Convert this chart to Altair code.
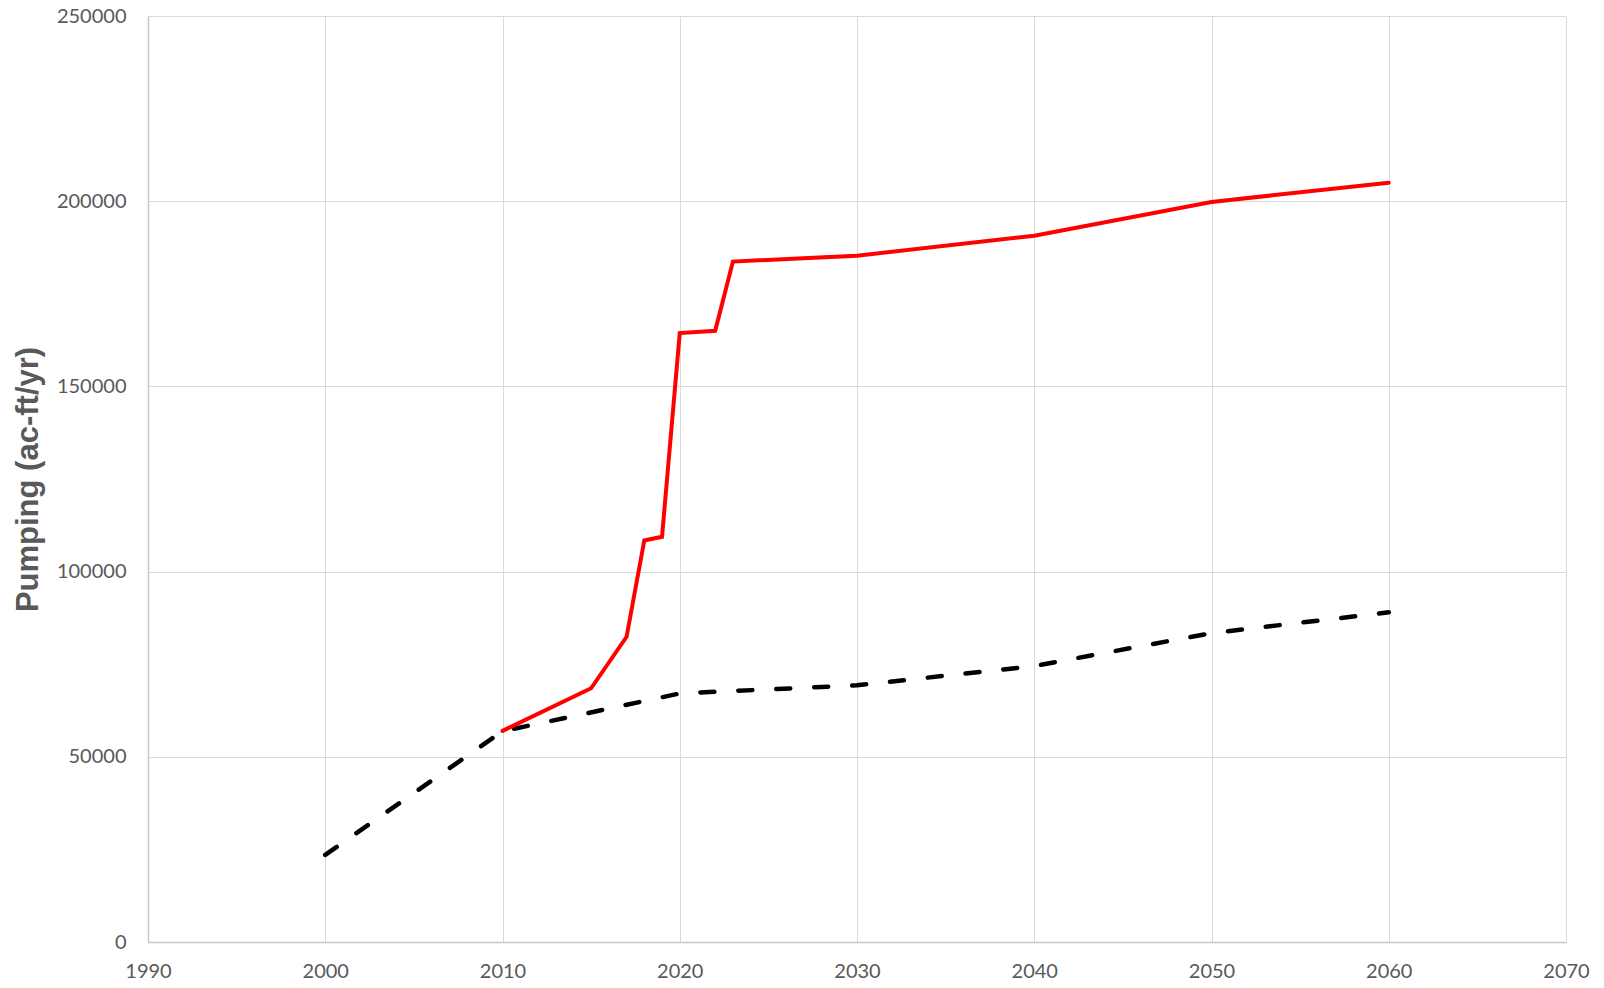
import altair as alt
import pandas as pd

# Baseline (black dashed) series
base_years = [2000, 2010, 2020, 2030, 2040, 2050, 2060]
base_vals = [23500, 56900, 67100, 69300, 74500, 83400, 89000]

# Projected (red) series
proj_years = [2010, 2015, 2017, 2018, 2019, 2020, 2022, 2023, 2030, 2040, 2050, 2060]
proj_vals = [57000, 68500, 82400, 108400, 109400, 164400, 165000, 183700, 185300, 190700, 199800, 205000]

x_ticks = [1990, 2000, 2010, 2020, 2030, 2040, 2050, 2060, 2070]
y_ticks = [0, 50000, 100000, 150000, 200000, 250000]

base_df = pd.DataFrame({"year": base_years, "value": base_vals})
proj_df = pd.DataFrame({"year": proj_years, "value": proj_vals})

x_enc = alt.X(
    "year:Q",
    scale=alt.Scale(domain=[1990, 2070], nice=False, zero=False),
    axis=alt.Axis(values=x_ticks, format="d", title=None, ticks=False,
                  labelFlush=False, labelOverlap=False,
                  labelPadding=19, labelFontSize=20, labelFont="Lato",
                  labelColor="#595959", grid=True, gridColor="#d9d9d9",
                  domainColor="#c8c8c8", domainWidth=1.5),
)
y_enc = alt.Y(
    "value:Q",
    scale=alt.Scale(domain=[0, 250000], nice=False),
    axis=alt.Axis(values=y_ticks, format="d", title="Pumping (ac-ft/yr)",
                  ticks=False, labelFlush=False, labelOverlap=False,
                  labelPadding=22, labelFontSize=20, labelFont="Lato",
                  labelColor="#595959", titleFont="Liberation Sans",
                  titleFontSize=31, titleFontWeight="bold", titleColor="#595959",
                  titlePadding=12, grid=True, gridColor="#d9d9d9",
                  domainColor="#c8c8c8", domainWidth=1.5),
)

base = alt.Chart(base_df).mark_line(
    color="black", strokeWidth=4.5, strokeDash=[14, 24], strokeCap="round"
).encode(x=x_enc, y=y_enc)

proj = alt.Chart(proj_df).mark_line(
    color="#ff0000", strokeWidth=4, strokeCap="round", strokeJoin="miter"
).encode(x=x_enc, y=y_enc)

chart = alt.layer(base, proj).properties(
    width=1418, height=926,
    autosize=alt.AutoSizeParams(type="none"),
    padding={"left": 140, "top": 8, "right": 28, "bottom": 40},
).configure_view(stroke=None)

chart.save("out.html", embed_options={"renderer": "svg", "actions": False})
